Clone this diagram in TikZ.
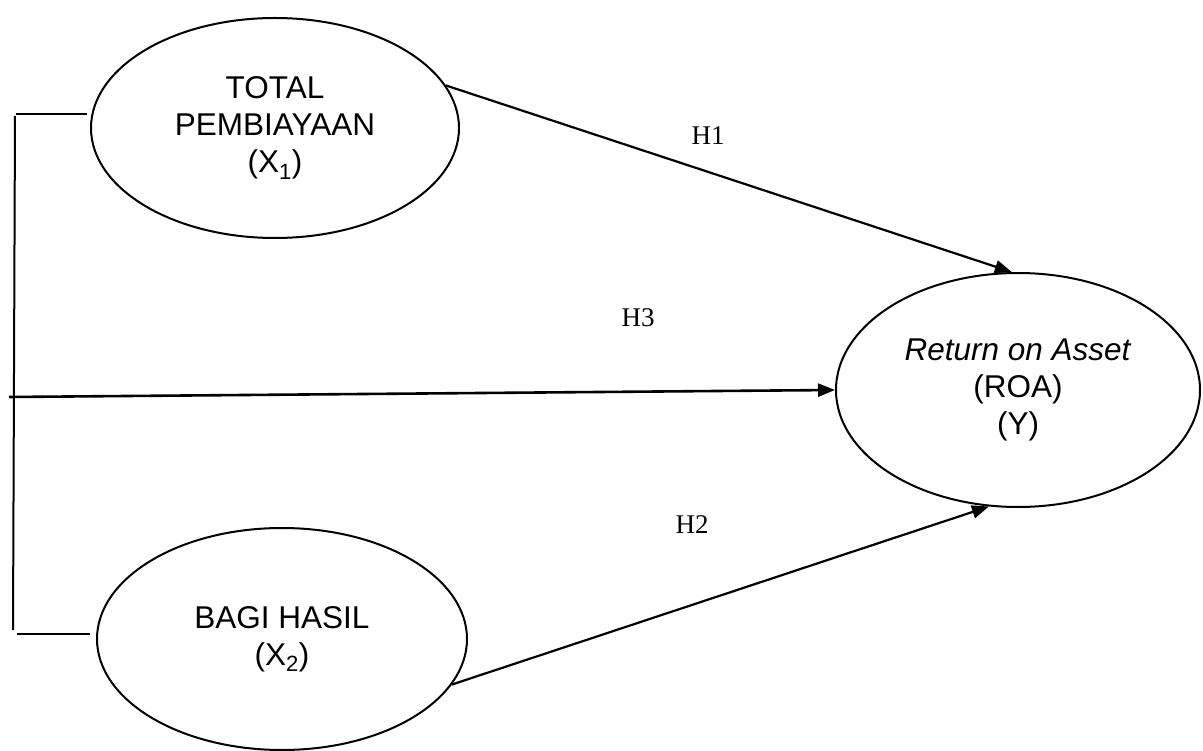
\documentclass[tikz,border=0pt]{standalone}
\usepackage{fontspec}
\setmainfont{Liberation Sans}
\newfontfamily\tnr{Liberation Serif}
\usetikzlibrary{shapes.geometric,arrows.meta}
\begin{document}
\begin{tikzpicture}[x=1pt,y=-1pt,
  var/.style={ellipse,draw,line width=2pt,inner sep=0pt,align=center,font=\fontsize{31.5}{37}\selectfont},
  conn/.style={line width=2.2pt,-{Triangle[length=17pt,width=13pt]}},
  hlab/.style={font=\tnr\fontsize{27}{30}\selectfont,inner sep=0pt},
  brk/.style={line width=2pt}]
\useasboundingbox[fill=white] (0,0) rectangle (1203,751);
\node[var,minimum width=368pt,minimum height=220pt] (x1) at (275,128) {TOTAL\\PEMBIAYAAN\\(X\textsubscript{1})};
\node[var,minimum width=370pt,minimum height=222pt] (x2) at (282,639) {BAGI HASIL\\(X\textsubscript{2})};
\node[var,minimum width=364pt,minimum height=234pt] (y) at (1018,390) {\textit{Return on Asset}\\(ROA)\\(Y)};
% bracket
\coordinate (bt1) at (16,114);
\coordinate (bt2) at (87,114);
\coordinate (bv1) at (15,116);
\coordinate (bv2) at (13,630);
\coordinate (bb1) at (17,634);
\coordinate (bb2) at (90,634);
\draw[brk] (bt1) -- (bt2);
\draw[brk] (bv1) -- (bv2);
\draw[brk] (bb1) -- (bb2);
\coordinate (h3s) at (9,397);
% connectors
\draw[conn] (x1.14) -- (y.93);
\draw[conn] (x2.-15) -- (y.-104);
\draw[conn,line width=2.6pt] (h3s) -- (y.west);
% labels
\node[hlab] (l1) at (708,136) {H1};
\node[hlab] (l2) at (692,525) {H2};
\node[hlab] (l3) at (638,318) {H3};
\end{tikzpicture}
\end{document}
